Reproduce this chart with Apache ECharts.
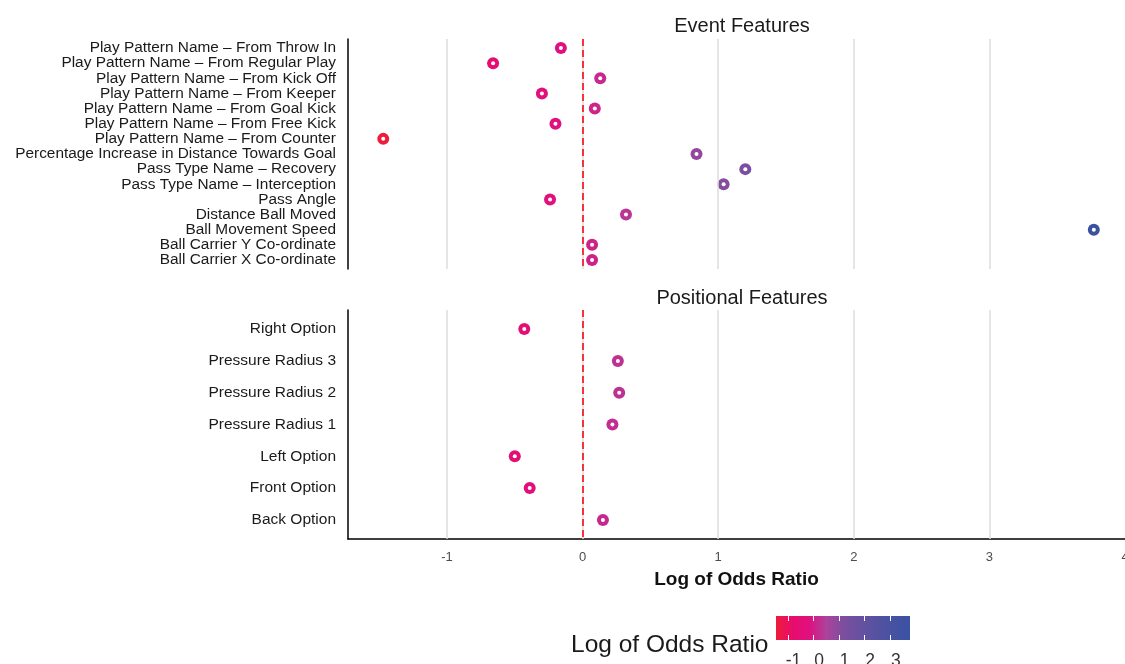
<!DOCTYPE html>
<html>
<head>
<meta charset="utf-8">
<script src="https://cdn.jsdelivr.net/npm/echarts@6/dist/echarts.min.js"></script>
<style>
  html, body { margin: 0; padding: 0; background: #ffffff; }
  #chart { width: 1125px; height: 664px; }
</style>
</head>
<body>
<div id="chart"></div>
<script>
// Event features (top panel), listed top to bottom
const eventFeatures = [
  'Play Pattern Name \u2013 From Throw In',
  'Play Pattern Name \u2013 From Regular Play',
  'Play Pattern Name \u2013 From Kick Off',
  'Play Pattern Name \u2013 From Keeper',
  'Play Pattern Name \u2013 From Goal Kick',
  'Play Pattern Name \u2013 From Free Kick',
  'Play Pattern Name \u2013 From Counter',
  'Percentage Increase in Distance Towards Goal',
  'Pass Type Name \u2013 Recovery',
  'Pass Type Name \u2013 Interception',
  'Pass Angle',
  'Distance Ball Moved',
  'Ball Movement Speed',
  'Ball Carrier Y Co-ordinate',
  'Ball Carrier X Co-ordinate'
];
const eventValues = [-0.16, -0.66, 0.13, -0.30, 0.09, -0.20, -1.47, 0.84, 1.20, 1.04, -0.24, 0.32, 3.77, 0.07, 0.07];

// Positional features (bottom panel), listed top to bottom
const positionalFeatures = [
  'Right Option',
  'Pressure Radius 3',
  'Pressure Radius 2',
  'Pressure Radius 1',
  'Left Option',
  'Front Option',
  'Back Option'
];
const positionalValues = [-0.43, 0.26, 0.27, 0.22, -0.50, -0.39, 0.15];

// Axis ticks
const xTicks = [-1, 0, 1, 2, 3, 4];
const gridTicks = [-1, 0, 1, 2, 3];
const legendTicks = [-1, 0, 1, 2, 3];

// Colour scale
const colorRange = [-1.47, 3.77];
const colorStops = ['#EE1C3A', '#E70C6C', '#DF1180', '#AC429B', '#7E4E9F', '#6751A0', '#5552A1', '#4652A2', '#3A51A2'];

const FONT = "'Liberation Sans', Arial, sans-serif";
const X_MIN = -1.73, X_MAX = 4.0;

const chart = echarts.init(document.getElementById('chart'), null, { renderer: 'canvas' });

function indexAxis(gridIndex, names, fontSize) {
  const idx = names.map((_, i) => i);
  return {
    type: 'value', gridIndex: gridIndex, inverse: true,
    min: -0.6, max: names.length - 1 + 0.6,
    axisLine: { show: true, onZero: false, lineStyle: { color: '#000', width: 1.5 } },
    axisTick: { show: false },
    splitLine: { show: false },
    axisLabel: {
      customValues: idx,
      formatter: v => names[Math.round(v)],
      fontFamily: FONT, fontSize: fontSize, color: '#1a1a1a', margin: 12,
      padding: [4, 0, 0, 0]
    }
  };
}

function oddsAxis(gridIndex, withLabels) {
  return {
    type: 'value', gridIndex: gridIndex, min: X_MIN, max: X_MAX,
    axisLine: { show: withLabels, onZero: false, lineStyle: { color: '#000', width: 1.5 } },
    axisTick: { show: false },
    splitLine: { show: false },
    axisLabel: withLabels ? {
      customValues: xTicks, fontFamily: FONT, fontSize: 13, color: '#4d4d4d', margin: 12
    } : { show: false },
    name: withLabels ? 'Log of Odds Ratio' : '',
    nameLocation: 'middle', nameGap: 31,
    nameTextStyle: { fontFamily: FONT, fontSize: 19, fontWeight: 'bold', color: '#111' }
  };
}

function guideLines(gridIndex) {
  // light vertical grid lines at each tick plus the dashed zero reference
  return {
    type: 'scatter', xAxisIndex: gridIndex, yAxisIndex: gridIndex, data: [], z: 1, silent: true,
    markLine: {
      symbol: 'none', silent: true, animation: false,
      label: { show: false },
      data: gridTicks.map(t => ({ xAxis: t, lineStyle: { color: '#dcdcdc', width: 1.5, type: 'solid' } }))
        .concat([{ xAxis: 0, lineStyle: { color: '#f5333f', width: 2, type: [7, 4] } }])
    }
  };
}

// coloured disc for each feature
function points(gridIndex, values) {
  return {
    type: 'scatter', xAxisIndex: gridIndex, yAxisIndex: gridIndex, z: 3,
    symbol: 'circle', symbolSize: 12,
    itemStyle: { opacity: 1 },
    data: values.map((v, i) => [v, i])
  };
}

// white centre dot that turns each disc into a ring
function centres(gridIndex, values) {
  return {
    type: 'scatter', xAxisIndex: gridIndex, yAxisIndex: gridIndex, z: 4, silent: true,
    symbol: 'circle', symbolSize: 4,
    itemStyle: { color: '#ffffff', opacity: 1 },
    data: values.map((v, i) => [v, i])
  };
}

const gradient = new echarts.graphic.LinearGradient(0, 0, 1, 0,
  colorStops.map((c, i) => ({ offset: i / (colorStops.length - 1), color: c })));

chart.setOption({
  animation: false,
  backgroundColor: '#ffffff',
  title: [
    { text: 'Event Features', left: 737, top: 11, textAlign: 'center',
      textStyle: { fontFamily: FONT, fontSize: 20, fontWeight: 'normal', color: '#1a1a1a' } },
    { text: 'Positional Features', left: 737, top: 283, textAlign: 'center',
      textStyle: { fontFamily: FONT, fontSize: 20, fontWeight: 'normal', color: '#1a1a1a' } },
    { text: 'Log of Odds Ratio', left: 566, top: 628,
      textStyle: { fontFamily: FONT, fontSize: 24.5, fontWeight: 'normal', color: '#1a1a1a' } }
  ],
  grid: [
    { left: 348, top: 39, width: 777, height: 230, outerBoundsMode: 'none' },
    { left: 348, top: 310, width: 777, height: 229, outerBoundsMode: 'none' },
    { left: 776, top: 616, width: 134, height: 24, show: true, backgroundColor: gradient, borderWidth: 0, outerBoundsMode: 'none' }
  ],
  xAxis: [
    oddsAxis(0, false),
    oddsAxis(1, true),
    {
      type: 'value', gridIndex: 2, min: colorRange[0], max: colorRange[1],
      axisLine: { show: false }, splitLine: { show: false },
      axisTick: { show: true, inside: true, length: 5, customValues: legendTicks, lineStyle: { color: '#ffffff', width: 1 } },
      axisLabel: { customValues: legendTicks, fontFamily: FONT, fontSize: 17.5, color: '#333', margin: 12, padding: [0, 0, 0, 11] }
    },
    {
      type: 'value', gridIndex: 2, position: 'top', min: colorRange[0], max: colorRange[1],
      axisLine: { show: false }, splitLine: { show: false },
      axisTick: { show: true, inside: true, length: 5, customValues: legendTicks, lineStyle: { color: '#ffffff', width: 1 } },
      axisLabel: { show: false }
    }
  ],
  yAxis: [
    indexAxis(0, eventFeatures, 15.4),
    indexAxis(1, positionalFeatures, 15.5),
    { type: 'value', gridIndex: 2, show: false, min: 0, max: 1 }
  ],
  visualMap: {
    type: 'continuous', show: false, dimension: 0, seriesIndex: [2, 3],
    min: colorRange[0], max: colorRange[1],
    inRange: { color: colorStops }
  },
  series: [
    guideLines(0),
    guideLines(1),
    points(0, eventValues),
    points(1, positionalValues),
    centres(0, eventValues),
    centres(1, positionalValues)
  ]
});
</script>
</body>
</html>
